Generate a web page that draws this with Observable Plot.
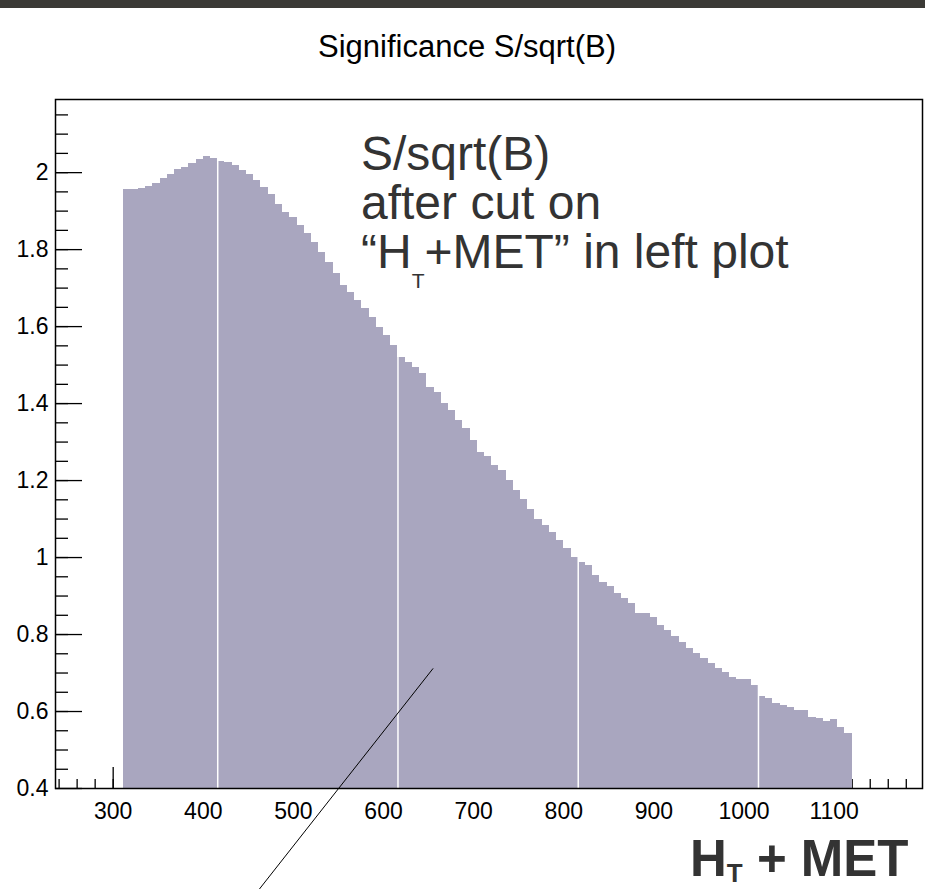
<!DOCTYPE html>
<html><head><meta charset="utf-8">
<script src="https://cdn.jsdelivr.net/npm/d3@7"></script>
<script src="https://cdn.jsdelivr.net/npm/@observablehq/plot@0.6"></script>
<style>
body{margin:0;background:#fff;}
#wrap{position:relative;width:925px;height:889px;overflow:hidden;}
#topbar{position:absolute;left:0;top:0;width:925px;height:8px;background:#3b3a36;z-index:2;}
</style></head>
<body><div id="wrap"><div id="topbar"></div></div>
<script>
// ---- data ----
const binStart = 312;          // lower edge of first bin (HT+MET)
const binWidth = 8;
const significance = [
  1.955,1.957,1.960,1.964,1.973,1.985,1.994,2.008,2.014,2.023,
  2.034,2.042,2.037,2.029,2.027,2.018,2.005,1.994,1.979,1.962,
  1.942,1.916,1.897,1.884,1.862,1.841,1.819,1.793,1.767,1.737,
  1.706,1.689,1.668,1.646,1.624,1.598,1.577,1.551,1.520,1.508,
  1.494,1.477,1.441,1.429,1.399,1.382,1.356,1.334,1.304,1.274,
  1.262,1.239,1.226,1.200,1.174,1.152,1.126,1.100,1.083,1.066,
  1.044,1.023,1.001,0.988,0.979,0.953,0.936,0.925,0.906,0.893,
  0.880,0.855,0.854,0.845,0.823,0.810,0.795,0.780,0.765,0.750,
  0.739,0.726,0.711,0.702,0.688,0.683,0.683,0.668,0.639,0.635,
  0.622,0.616,0.610,0.603,0.603,0.585,0.581,0.575,0.578,0.559,
  0.544
];
const gapEdges = [416, 616, 816, 1016];     // rendering seams visible in the histogram
const xRange = [236, 1198];
const yRange = [0.4, 2.19];
const xMajor = [300,400,500,600,700,800,900,1000,1100];
const xMinor = d3.range(240, 1200, 20);
const yMajor = [0.4,0.6,0.8,1,1.2,1.4,1.6,1.8,2];
const yMinor = d3.range(0.45, 2.19, 0.05);
const titleText = "Significance S/sqrt(B)";
const pointerLine = [{x1: 655, y1: 0.712, x2: 462, y2: 0.138}];

// ---- build ----
const bins = significance.map((v, i) => ({x1: binStart + i*binWidth, x2: binStart + (i+1)*binWidth, v}));
const gaps = gapEdges.map(e => {
  const i = (e - binStart) / binWidth;
  return {x: e, top: Math.max(significance[i-1], significance[i])};
});

const W = 925, H = 889, mL = 55, mR = 3, mT = 99, mB = 101;
const plotW = W - mL - mR, plotH = H - mT - mB;
const font = "'Liberation Sans', Arial, sans-serif";

const chart = Plot.plot({
  width: W, height: H,
  marginLeft: mL, marginRight: mR, marginTop: mT, marginBottom: mB,
  style: {fontFamily: font, fontSize: "23px", color: "black", background: "white", overflow: "visible"},
  x: {domain: xRange, ticks: xMajor, tickFormat: d => String(d), tickSize: 0, tickPadding: 14, label: null},
  y: {domain: yRange, ticks: yMajor, tickFormat: d => String(+d.toFixed(2)), tickSize: 0, tickPadding: 7, label: null},
  marks: [
    Plot.ruleX(xMinor, {stroke: "black", strokeWidth: 1.3, insetTop: plotH - 9}),
    Plot.ruleX(xMajor, {stroke: "black", strokeWidth: 1.3, insetTop: plotH - 21}),
    Plot.ruleY(yMinor, {stroke: "black", strokeWidth: 1.3, insetRight: plotW - 13}),
    Plot.ruleY(yMajor, {stroke: "black", strokeWidth: 1.3, insetRight: plotW - 27}),
    Plot.rectY(bins, {x1: "x1", x2: "x2", y1: () => yRange[0], y2: "v", fill: "#a9a6bf", shapeRendering: "crispEdges"}),
    Plot.ruleX(gaps, {x: "x", y1: () => yRange[0], y2: "top", stroke: "white", strokeWidth: 1.5}),
    Plot.frame({stroke: "black", strokeWidth: 1.5}),
    Plot.link(pointerLine, {x1: "x1", y1: "y1", x2: "x2", y2: "y2", stroke: "black", strokeWidth: 1})
  ]
});
chart.style.position = "absolute";
chart.style.left = "0px";
chart.style.top = "0px";
const wrap = document.getElementById("wrap");
wrap.insertBefore(chart, wrap.firstChild);

const svg = d3.select(chart);
svg.append("text").attr("x", 467).attr("y", 57).attr("text-anchor", "middle")
  .attr("font-family", font).attr("font-size", 31).attr("fill", "black").text(titleText);

const ann = svg.append("g").attr("font-family", font).attr("fill", "#333").attr("font-size", 48)
  .attr("text-anchor", "start");
ann.append("text").attr("x", 361).attr("y", 170).text("S/sqrt(B)");
ann.append("text").attr("x", 361).attr("y", 219).text("after cut on");
const l3 = ann.append("text").attr("x", 361).attr("y", 268);
l3.append("tspan").text("\u201CH");
l3.append("tspan").attr("font-size", 21).attr("dy", 20).text("T");
l3.append("tspan").attr("dy", -20).text("+MET\u201D in left plot");

const lab = svg.append("text").attr("x", 690).attr("y", 876).attr("font-family", font)
  .attr("text-anchor", "start")
  .attr("font-weight", "bold").attr("font-size", 51).attr("fill", "#333");
lab.append("tspan").text("H");
lab.append("tspan").attr("font-size", 26).attr("dy", 6).text("T");
lab.append("tspan").attr("dy", -6).text(" + MET");
</script>
</body></html>
